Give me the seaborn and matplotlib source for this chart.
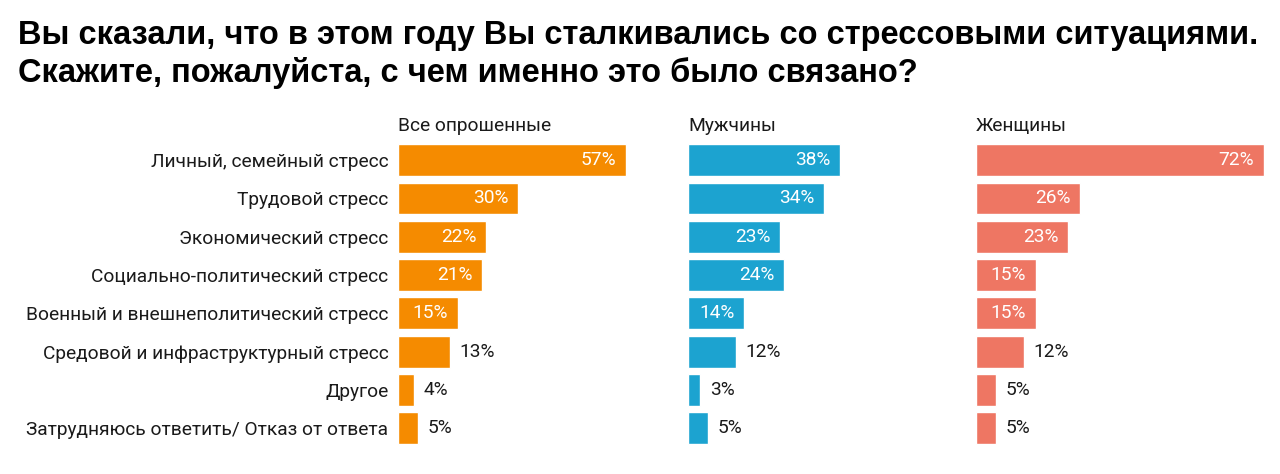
import matplotlib
matplotlib.use("Agg")
import matplotlib.pyplot as plt
import seaborn as sns
import pandas as pd

categories = [
    "Личный, семейный стресс",
    "Трудовой стресс",
    "Экономический стресс",
    "Социально-политический стресс",
    "Военный и внешнеполитический стресс",
    "Средовой и инфраструктурный стресс",
    "Другое",
    "Затрудняюсь ответить/ Отказ от ответа",
]
panel_titles = ["Все опрошенные", "Мужчины", "Женщины"]
all_vals = [57, 30, 22, 21, 15, 13, 4, 5]
men_vals = [38, 34, 23, 24, 14, 12, 3, 5]
women_vals = [72, 26, 23, 15, 15, 12, 5, 5]
colors = ["#F58B00", "#1CA3D0", "#EE7663"]
title = ("Вы сказали, что в этом году Вы сталкивались со стрессовыми ситуациями.\n"
         "Скажите, пожалуйста, с чем именно это было связано?")

sns.set_theme(style="white")
plt.rcParams['font.family'] = ['Roboto', 'DejaVu Sans']

W, H = 1280, 474
fig = plt.figure(figsize=(W / 100, H / 100), dpi=100)

lefts = [398, 688, 976]
ax_w = 288
top_px = 141
ax_h = 8 * 38.3
bottom_px = top_px + ax_h
fs = 13.8

series = [all_vals, men_vals, women_vals]
for i, (vals, col, ptitle) in enumerate(zip(series, colors, panel_titles)):
    ax = fig.add_axes([lefts[i] / W, (H - bottom_px) / H, ax_w / W, ax_h / H])
    df = pd.DataFrame({"cat": categories, "val": vals})
    sns.barplot(data=df, x="val", y="cat", orient="h", color=col,
                saturation=1, width=0.83, ax=ax)
    ax.set_xlim(0, 72)
    ax.set_ylim(7.5, -0.5)
    ax.set_xlabel("")
    ax.set_ylabel("")
    ax.set_xticks([])
    for s in ax.spines.values():
        s.set_visible(False)
    if i == 0:
        ax.tick_params(axis="y", length=0, pad=7, labelsize=fs, labelcolor="#1a1a1a")
    else:
        ax.set_yticks([])
    ax.text(0, 1.02, ptitle, transform=ax.transAxes, ha="left", va="bottom",
            fontsize=fs, color="#1a1a1a")
    for j, v in enumerate(vals):
        if v >= 14:
            ax.annotate(f"{v}%", xy=(v, j), xytext=(-7, 0), textcoords="offset points",
                        ha="right", va="center", color="white", fontsize=fs, clip_on=False)
        else:
            ax.annotate(f"{v}%", xy=(v, j), xytext=(7, 0), textcoords="offset points",
                        ha="left", va="center", color="#1a1a1a", fontsize=fs, clip_on=False)
    for p in ax.patches:
        p.set_clip_on(False)

fig.text(18 / W, 1 - 20 / H, title, ha="left", va="top", fontsize=23.5,
         fontweight="bold", family=["Liberation Sans", "DejaVu Sans"],
         color="black", linespacing=1.25)

fig.savefig("out.png", dpi=100, facecolor="white")
